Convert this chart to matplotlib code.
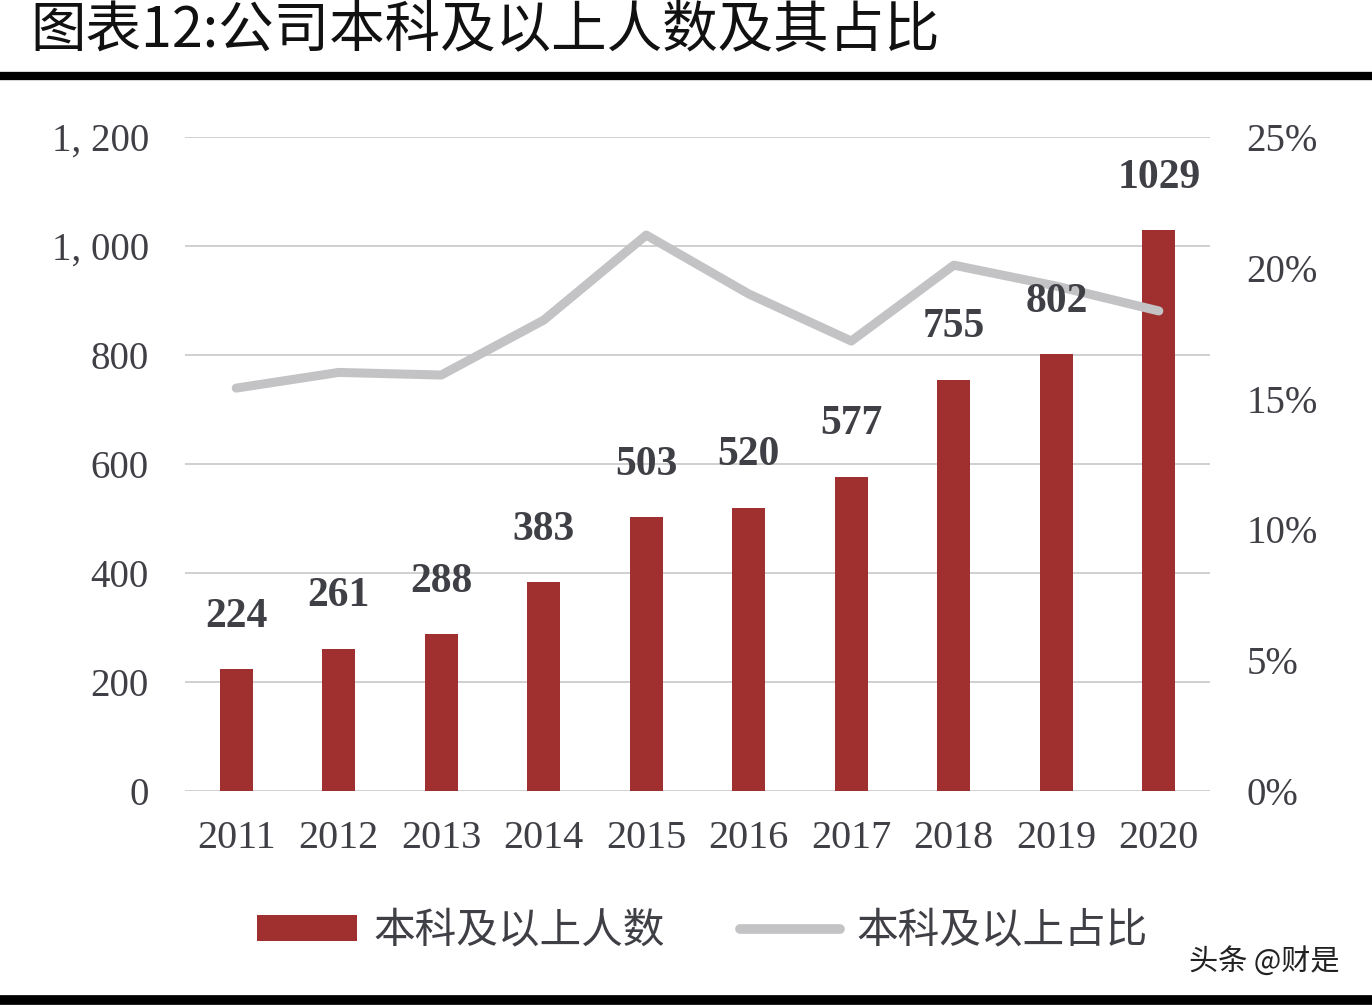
import matplotlib.pyplot as plt
from matplotlib.lines import Line2D
from matplotlib.patches import Patch
import numpy as np

years = ["2011", "2012", "2013", "2014", "2015", "2016", "2017", "2018", "2019", "2020"]
people = [224, 261, 288, 383, 503, 520, 577, 755, 802, 1029]
ratio = [0.154, 0.160, 0.159, 0.180, 0.2125, 0.190, 0.172, 0.201, 0.193, 0.1835]
left_ticks = [0, 200, 400, 600, 800, 1000, 1200]
left_labels = ["0", "200", "400", "600", "800", "1, 000", "1, 200"]
right_ticks = [0, 0.05, 0.10, 0.15, 0.20, 0.25]
right_labels = ["0%", "5%", "10%", "15%", "20%", "25%"]

bar_color = "#A0302F"
line_color = "#C3C3C5"
text_color = "#3F3F46"
cjk = ["Noto Sans CJK SC", "DejaVu Sans"]
serif = ["Liberation Serif", "DejaVu Serif"]

plt.rcParams['font.family'] = cjk

fig = plt.figure(figsize=(13.72, 10.08), dpi=100)
ax = fig.add_axes([0.1348, 0.2153, 0.7472, 0.6488])
x = np.arange(len(years))

ax.bar(x, people, width=0.32, color=bar_color, zorder=2)
ax.set_xlim(-0.5, 9.5)
ax.set_ylim(0, 1200)
ax.set_yticks(left_ticks)
ax.set_yticklabels(left_labels, family=serif, fontsize=28, color=text_color)
ax.set_xticks(x)
ax.set_xticklabels(years, family=serif, fontsize=29, color=text_color)
ax.tick_params(axis="y", length=0, pad=26)
ax.tick_params(axis="x", length=0, pad=21)
ax.grid(axis="y", color="#C8C8C8", linewidth=1.2, zorder=0)
for s in ax.spines.values():
    s.set_visible(False)

ax2 = ax.twinx()
ax2.plot(x, ratio, color=line_color, linewidth=6.5, solid_capstyle="round",
         solid_joinstyle="round", zorder=3)
ax2.set_ylim(0, 0.25)
ax2.set_yticks(right_ticks)
ax2.set_yticklabels(right_labels, family=serif, fontsize=28, color=text_color)
ax2.tick_params(axis="y", length=0, pad=26)
for s in ax2.spines.values():
    s.set_visible(False)

# data labels on top of the line
for xi, v in zip(x, people):
    ax2.annotate(str(v), (xi, v), xycoords=ax.transData, xytext=(0, 24),
                 textcoords="offset points", ha="center", va="bottom",
                 family=serif, fontsize=30, fontweight="bold",
                 color=text_color, zorder=5)

# title and rules
fig.text(0.022, 0.970, "图表12:公司本科及以上人数及其占比", fontsize=40,
         ha="left", va="center", color="#111111")
fig.add_artist(Line2D([0, 1], [0.925, 0.925], color="black", linewidth=6))
fig.add_artist(Line2D([0, 1], [0.008, 0.008], color="black", linewidth=7))

# legend
handles = [Patch(facecolor=bar_color, label="本科及以上人数"),
           Line2D([0], [0], color=line_color, linewidth=7, solid_capstyle="round",
                  label="本科及以上占比")]
fig.legend(handles=handles, loc="center", bbox_to_anchor=(0.512, 0.076), ncol=2,
           frameon=False, prop={"family": cjk, "size": 30}, labelcolor=text_color,
           handlelength=2.4, handleheight=0.6, columnspacing=1.8, handletextpad=0.4)

fig.text(0.976, 0.046, "头条 @财是", fontsize=21, ha="right", va="center", color="#222222")

fig.savefig("out.png", dpi=100, facecolor="white")
